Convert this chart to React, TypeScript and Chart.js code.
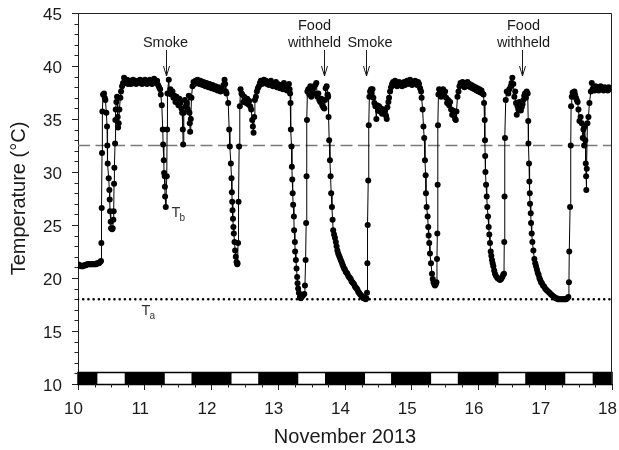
import React, { useEffect, useRef } from 'react';
import { Chart, registerables } from 'chart.js';

Chart.register(...registerables);

// ---------- data ----------
const xTicks = [10, 11, 12, 13, 14, 15, 16, 17, 18];
const yTicks = [10, 15, 20, 25, 30, 35, 40, 45];
const xTitle = 'November 2013';
const yTitle = 'Temperature (°C)';

// body temperature Tb: [day of November 2013, °C]
const tbSeries: [number, number][] = [
  [10.000,21.3],[10.015,21.2],[10.030,21.2],[10.045,21.1],[10.060,21.1],[10.075,21.1],[10.090,21.2],[10.105,21.2],[10.120,21.2],[10.135,21.3],[10.150,21.3],[10.165,21.3],[10.180,21.3],[10.195,21.3],[10.210,21.3],[10.225,21.3],[10.240,21.3],[10.255,21.3],[10.270,21.3],[10.285,21.4],[10.300,21.4],[10.315,21.4],[10.330,21.5],
  [10.345,21.6],[10.350,23.3],[10.355,26.6],[10.360,31.8],[10.365,35.7],[10.375,37.3],[10.390,37.4],[10.400,37.0],[10.410,36.8],[10.425,35.6],[10.435,34.3],[10.440,32.5],[10.445,30.8],[10.460,29.4],[10.470,28.3],[10.475,27.4],[10.480,26.3],[10.490,25.3],[10.495,24.7],[10.510,24.6],[10.520,24.7],[10.530,25.5],[10.535,26.3],[10.540,28.9],[10.545,30.4],[10.555,32.7],[10.560,34.9],[10.565,35.9],[10.575,36.6],[10.585,37.1],[10.595,35.2],[10.600,34.2],[10.610,34.6],[10.620,35.9],[10.635,37.0],[10.645,37.6],[10.660,38.1],[10.675,38.4],[10.690,38.9],
  [10.705,38.6],[10.720,38.4],[10.735,38.7],[10.750,38.3],[10.765,38.5],[10.780,38.6],[10.795,38.3],[10.810,38.5],[10.825,38.7],[10.840,38.4],[10.855,38.6],[10.870,38.3],[10.885,38.5],[10.900,38.6],[10.915,38.4],[10.930,38.7],[10.945,38.5],[10.960,38.3],[10.975,38.6],[10.990,38.4],[11.005,38.7],[11.020,38.5],[11.035,38.3],[11.050,38.6],[11.065,38.4],[11.080,38.7],[11.095,38.5],[11.110,38.3],[11.125,38.6],[11.140,38.8],[11.155,38.5],[11.170,38.4],[11.185,38.6],[11.200,38.2],[11.215,38.0],[11.230,37.8],
  [11.240,37.3],[11.255,36.3],[11.270,34.0],[11.275,32.6],[11.285,31.1],[11.290,29.9],[11.300,29.6],[11.302,28.6],[11.305,27.7],[11.315,26.7],[11.330,29.6],[11.335,34.0],[11.340,37.4],[11.360,38.7],
  [11.370,37.4],[11.385,37.8],[11.400,37.3],[11.415,37.6],[11.430,37.0],[11.445,37.2],[11.460,36.6],[11.475,37.1],[11.490,36.8],[11.505,36.3],[11.520,36.9],[11.535,36.5],[11.550,36.0],[11.560,35.6],[11.570,34.0],[11.575,32.6],[11.585,35.6],[11.600,36.8],[11.615,36.2],[11.630,36.5],[11.645,35.9],[11.660,37.2],[11.670,35.6],[11.675,34.6],[11.680,33.8],[11.690,35.0],[11.700,37.0],[11.715,38.1],[11.730,38.5],
  [11.745,38.3],[11.760,38.6],[11.775,38.4],[11.790,38.7],[11.805,38.5],[11.820,38.3],[11.835,38.6],[11.850,38.4],[11.865,38.2],[11.880,38.5],[11.895,38.3],[11.910,38.1],[11.925,38.4],[11.940,38.2],[11.955,38.0],[11.970,38.3],[11.985,38.1],[12.000,37.9],[12.015,38.2],[12.030,38.0],[12.045,37.8],[12.060,38.1],[12.075,37.9],[12.090,37.7],[12.105,38.0],[12.120,37.8],[12.135,37.6],[12.150,37.9],[12.165,37.7],[12.180,38.2],[12.195,38.7],[12.205,38.3],
  [12.215,37.6],[12.225,37.4],[12.250,36.5],[12.265,34.0],[12.275,32.4],[12.290,30.8],[12.300,29.4],[12.305,28.1],[12.310,27.2],[12.315,26.4],[12.322,25.6],[12.328,24.8],[12.334,24.2],[12.345,23.4],[12.354,22.6],[12.364,22.0],[12.375,21.5],[12.385,21.3],[12.390,21.4],[12.398,23.3],[12.405,27.2],[12.414,32.4],[12.424,36.2],[12.435,37.8],[12.450,37.4],
  [12.460,37.3],[12.475,36.6],[12.490,37.1],[12.505,36.8],[12.520,36.5],[12.535,36.9],[12.550,36.4],[12.565,36.7],[12.580,36.2],[12.595,35.9],[12.610,34.9],[12.620,34.3],[12.630,33.7],[12.640,35.2],[12.650,36.8],[12.665,37.1],[12.680,37.6],[12.695,37.9],[12.710,38.1],
  [12.725,38.4],[12.740,38.6],[12.755,38.3],[12.770,38.5],[12.785,38.7],[12.800,38.4],[12.815,38.6],[12.830,38.3],[12.845,38.5],[12.860,38.2],[12.875,38.4],[12.890,38.6],[12.905,38.3],[12.920,38.1],[12.935,38.4],[12.950,38.2],[12.965,38.5],[12.980,38.0],[12.995,38.3],[13.010,38.1],[13.025,37.9],[13.040,38.2],[13.055,38.0],[13.070,37.8],[13.085,38.4],[13.100,37.9],[13.115,38.1],[13.130,37.7],[13.145,37.9],[13.160,38.3],[13.170,37.8],
  [13.178,37.4],[13.184,36.5],[13.189,34.0],[13.199,32.4],[13.204,30.5],[13.210,29.3],[13.216,28.0],[13.223,26.9],[13.234,25.8],[13.238,24.5],[13.249,23.4],[13.253,22.5],[13.264,21.7],[13.274,20.9],[13.283,20.1],[13.289,19.5],[13.298,19.0],[13.309,18.6],[13.324,18.2],[13.337,18.1],[13.349,18.2],[13.362,18.3],[13.373,18.4],[13.390,18.5],[13.400,19.3],[13.410,21.7],[13.418,25.2],[13.424,29.6],[13.430,34.9],[13.437,37.6],
  [13.450,37.8],[13.465,37.3],[13.480,38.1],[13.495,37.1],[13.510,37.6],[13.525,37.9],[13.540,37.4],[13.555,38.2],[13.570,38.4],[13.585,37.1],[13.600,37.4],[13.615,36.8],[13.630,36.6],[13.645,36.9],[13.660,36.3],[13.675,36.1],[13.690,36.0],[13.700,36.8],[13.710,37.9],[13.725,38.1],[13.740,37.3],
  [13.748,37.1],[13.754,35.2],[13.763,33.0],[13.774,31.1],[13.784,29.6],[13.793,28.0],[13.804,26.7],[13.814,25.5],[13.823,24.5],[13.836,24.1],[13.849,23.8],[13.862,23.4],[13.874,23.0],[13.886,22.6],[13.898,22.3],[13.911,22.1],[13.924,21.9],[13.936,21.7],[13.949,21.5],[13.961,21.3],[13.973,21.1],[13.986,20.9],[13.999,20.8],[14.011,20.6],[14.024,20.5],[14.036,20.4],[14.049,20.2],[14.061,20.1],[14.073,20.0],[14.086,19.9],[14.098,19.7],[14.110,19.6],[14.123,19.5],[14.136,19.4],[14.149,19.2],[14.161,19.1],[14.174,19.0],[14.186,18.9],[14.198,18.7],[14.210,18.6],[14.223,18.5],[14.236,18.4],[14.250,18.3],[14.264,18.2],[14.277,18.1],[14.290,18.1],[14.298,18.1],[14.310,18.0],
  [14.320,18.1],[14.330,18.6],[14.335,21.4],[14.340,25.0],[14.348,29.2],[14.356,34.4],[14.365,37.1],
  [14.375,37.6],[14.390,37.8],[14.400,37.4],[14.412,37.8],[14.425,37.0],[14.440,36.5],[14.455,36.2],[14.470,35.0],[14.480,36.3],[14.495,35.8],[14.510,36.2],[14.525,35.7],[14.540,36.0],[14.555,35.5],[14.570,35.9],[14.585,35.6],[14.600,35.8],[14.615,35.3],[14.625,35.0],[14.635,36.1],[14.650,36.6],[14.660,37.0],[14.675,37.6],[14.690,38.0],[14.705,38.3],
  [14.720,38.5],[14.735,38.2],[14.750,38.6],[14.765,38.4],[14.780,38.1],[14.795,38.3],[14.810,38.5],[14.825,38.2],[14.840,38.4],[14.855,38.1],[14.870,38.3],[14.885,38.5],[14.900,38.2],[14.915,38.4],[14.930,38.6],[14.945,38.3],[14.960,38.5],[14.975,38.7],[14.990,38.4],[15.005,38.2],[15.020,38.5],[15.035,38.3],[15.050,38.6],[15.065,38.4],[15.080,38.2],[15.095,38.5],[15.110,38.3],[15.125,37.9],[15.140,37.6],
  [15.148,37.0],[15.163,35.9],[15.175,34.3],[15.187,33.2],[15.198,31.1],[15.208,29.7],[15.213,28.0],[15.223,26.7],[15.238,25.8],[15.247,24.8],[15.253,24.0],[15.262,23.3],[15.273,22.3],[15.288,21.4],[15.303,20.4],[15.315,19.9],[15.327,19.6],[15.338,19.4],[15.348,19.3],[15.360,19.4],[15.370,19.6],[15.378,21.8],[15.383,24.2],[15.388,28.8],[15.393,34.4],[15.400,37.3],
  [15.410,37.8],[15.425,37.6],[15.440,37.1],[15.455,37.4],[15.470,37.8],[15.485,37.3],[15.500,37.6],[15.515,37.0],[15.530,36.5],[15.545,36.8],[15.560,36.3],[15.575,36.6],[15.590,35.9],[15.605,35.4],[15.620,35.8],[15.635,35.3],[15.650,35.0],[15.660,34.9],[15.670,35.7],[15.685,37.1],[15.700,37.6],[15.715,38.1],
  [15.730,38.4],[15.745,38.2],[15.760,38.5],[15.775,38.3],[15.790,38.0],[15.805,38.4],[15.820,38.2],[15.835,38.5],[15.850,38.1],[15.865,38.3],[15.880,38.0],[15.895,38.2],[15.910,37.9],[15.925,38.1],[15.940,37.8],[15.955,38.0],[15.970,37.7],[15.985,37.9],[16.000,37.6],[16.015,37.8],[16.030,37.5],[16.045,37.7],[16.060,37.4],[16.075,37.3],
  [16.083,36.5],[16.093,34.9],[16.097,33.0],[16.100,31.5],[16.104,30.0],[16.113,28.8],[16.123,27.7],[16.132,26.7],[16.143,25.8],[16.153,24.8],[16.162,24.1],[16.172,23.3],[16.183,22.5],[16.192,22.1],[16.202,21.7],[16.212,21.4],[16.222,21.1],[16.235,20.7],[16.247,20.4],[16.262,20.2],[16.282,20.0],[16.302,19.9],[16.322,19.8],[16.340,19.9],[16.357,20.1],[16.370,20.3],[16.382,20.4],[16.386,23.4],[16.390,27.7],[16.397,33.2],[16.408,36.8],[16.423,37.6],
  [16.447,37.4],[16.462,37.8],[16.483,38.1],[16.495,38.4],[16.507,38.9],[16.522,38.3],[16.537,37.1],[16.550,37.6],[16.562,36.5],[16.573,35.4],[16.585,36.2],[16.597,35.9],[16.610,36.6],[16.622,36.3],[16.635,35.8],[16.647,36.1],[16.660,36.4],[16.672,36.8],[16.685,37.2],[16.697,37.4],[16.710,37.0],[16.722,37.6],[16.737,37.4],
  [16.745,34.8],[16.748,32.7],[16.757,30.8],[16.762,29.1],[16.768,28.0],[16.772,27.0],[16.783,26.1],[16.787,25.2],[16.797,24.2],[16.807,23.4],[16.822,22.6],[16.837,21.8],[16.850,21.4],[16.862,21.1],[16.875,20.8],[16.887,20.5],[16.900,20.3],[16.912,20.0],[16.925,19.8],[16.937,19.6],[16.950,19.5],[16.965,19.3],[16.982,19.2],[16.998,19.0],[17.015,18.9],[17.030,18.8],[17.047,18.7],[17.063,18.6],[17.080,18.5],[17.097,18.4],[17.115,18.3],[17.135,18.2],[17.155,18.1],[17.172,18.1],[17.190,18.0],[17.210,18.0],[17.230,18.0],[17.247,18.0],[17.265,18.0],[17.285,18.0],[17.300,18.0],[17.312,18.0],[17.330,18.1],[17.346,18.2],
  [17.355,19.6],[17.360,22.5],[17.372,26.7],[17.382,32.5],[17.387,36.2],[17.397,37.1],[17.410,37.5],[17.425,37.3],[17.437,37.6],[17.447,37.3],[17.460,37.0],[17.472,36.8],
  [17.485,36.6],[17.497,35.9],[17.512,34.8],[17.530,35.2],[17.547,34.6],[17.562,33.2],[17.572,34.0],[17.582,32.5],[17.590,34.3],[17.600,33.0],[17.607,30.8],[17.612,29.6],[17.615,28.3],[17.622,30.3],[17.632,34.6],[17.647,35.2],[17.662,36.5],[17.683,37.6],[17.697,38.4],
  [17.710,37.8],[17.725,38.0],[17.740,37.7],[17.755,38.1],[17.770,37.8],[17.785,38.0],[17.800,37.7],[17.815,37.9],[17.830,38.1],[17.845,37.8],[17.860,37.9],[17.875,37.7],[17.890,38.0],[17.905,37.8],[17.920,37.9],[17.935,37.7],[17.950,38.0],[17.965,37.8],[17.980,37.9],[17.995,37.8],
];

const taValue = 18;          // ambient temperature Ta (°C)
const thresholdValue = 32.5; // dashed reference line (°C)

// light phase (white blocks in the bottom bar), day values
const lightOn = [10.29, 11.30, 12.30, 13.30, 14.30, 15.29, 16.30, 17.30];
const lightOff = [10.70, 11.70, 12.70, 13.70, 14.69, 15.69, 16.70, 17.71];

// event annotations
const eventDays = [11.325, 13.684, 14.321, 16.648];
const eventLabels = [['Smoke'], ['Food', 'withheld'], ['Smoke'], ['Food', 'withheld']];

// ---------- styling ----------
const FONT = '"Liberation Sans", Arial, Helvetica, sans-serif';
const INK = '#1a1a1a';
const labelShift = [-1, -10, 3.5, 1];

const overlayPlugin = {
  id: 'overlay',
  afterDraw(chart: any) {
    const { ctx, chartArea: a, scales } = chart;
    const xs = scales.x;
    const ys = scales.y;
    ctx.save();

    // light/dark bar
    const barTop = Math.round(ys.getPixelForValue(11.15)) + 0.5;
    const barBot = Math.round(a.bottom) + 0.5;
    ctx.fillStyle = '#fff';
    ctx.fillRect(a.left, barTop, a.right - a.left, barBot - barTop);
    ctx.fillStyle = '#000';
    const starts = [xTicks[0], ...lightOff];
    const ends = [...lightOn, xTicks[xTicks.length - 1]];
    for (let i = 0; i < starts.length; i++) {
      const x0 = xs.getPixelForValue(starts[i]);
      const x1 = xs.getPixelForValue(ends[i]);
      ctx.fillRect(x0, barTop, x1 - x0, barBot - barTop);
    }
    ctx.strokeStyle = '#000';
    ctx.lineWidth = 1.5;
    ctx.strokeRect(a.left, barTop, a.right - a.left, barBot - barTop);

    // frame (top/right)
    ctx.strokeStyle = '#222';
    ctx.lineWidth = 1;
    const L = Math.round(a.left) + 0.5, R = Math.round(a.right) - 0.5;
    const T = Math.round(a.top) + 0.5, B = Math.round(a.bottom) + 0.5;
    ctx.beginPath();
    ctx.moveTo(L, T); ctx.lineTo(R, T); ctx.lineTo(R, B);
    ctx.stroke();

    // minor ticks
    ctx.beginPath();
    for (let v = yTicks[0]; v <= yTicks[yTicks.length - 1]; v += 1) {
      if (v % 5 === 0) continue;
      const py = Math.round(ys.getPixelForValue(v)) + 0.5;
      ctx.moveTo(a.left - 3.5, py); ctx.lineTo(a.left, py);
    }
    for (let v = xTicks[0]; v <= xTicks[xTicks.length - 1]; v += 0.25) {
      if (Math.abs(v - Math.round(v)) < 1e-6) continue;
      const px = Math.round(xs.getPixelForValue(v)) + 0.5;
      ctx.moveTo(px, a.bottom); ctx.lineTo(px, a.bottom + 3.5);
    }
    ctx.stroke();

    // event arrows and labels
    ctx.fillStyle = INK;
    ctx.strokeStyle = INK;
    ctx.lineWidth = 1;
    ctx.font = `14.5px ${FONT}`;
    ctx.textAlign = 'center';
    ctx.textBaseline = 'alphabetic';
    eventDays.forEach((d, i) => {
      const px = Math.round(xs.getPixelForValue(d)) + 0.5;
      const y0 = a.top + 37;
      const y1 = a.top + 63;
      ctx.beginPath();
      ctx.moveTo(px, y0); ctx.lineTo(px, y1);
      ctx.moveTo(px - 3, y1 - 10); ctx.lineTo(px, y1); ctx.lineTo(px + 3, y1 - 10);
      ctx.stroke();
      const lines = eventLabels[i];
      const cx = px + labelShift[i];
      lines.forEach((t, j) => {
        const base = lines.length === 2 ? [a.top + 17, a.top + 33.7][j] : a.top + 33.7;
        ctx.fillText(t, cx, base);
      });
    });

    // Tb / Ta labels
    const drawSub = (main: string, sub: string, day: number, temp: number) => {
      const px = xs.getPixelForValue(day);
      const py = ys.getPixelForValue(temp);
      ctx.textAlign = 'left';
      ctx.font = `14.5px ${FONT}`;
      ctx.fillText(main, px, py);
      const w = ctx.measureText(main).width;
      ctx.font = `10px ${FONT}`;
      ctx.fillText(sub, px + w - 0.8, py + 4.5);
    };
    ctx.fillStyle = '#333';
    drawSub('T', 'b', 11.40, 25.77);
    drawSub('T', 'a', 10.95, 16.51);

    ctx.restore();
  },
};

export default function App() {
  const ref = useRef<HTMLCanvasElement>(null);

  useEffect(() => {
    if (!ref.current) return;
    const chart = new Chart(ref.current, {
      type: 'scatter',
      data: {
        datasets: [
          {
            label: 'Tb',
            data: tbSeries.map(([x, y]) => ({ x, y })),
            showLine: true,
            borderColor: '#000',
            borderWidth: 1,
            pointRadius: 3,
            pointBackgroundColor: '#000',
            pointBorderWidth: 0,
            order: 0,
          },
          {
            label: 'Ta',
            data: [{ x: xTicks[0], y: taValue }, { x: xTicks[xTicks.length - 1], y: taValue }],
            showLine: true,
            borderColor: '#000',
            borderWidth: 2.6,
            borderDash: [0.01, 5.2],
            borderCapStyle: 'round',
            pointRadius: 0,
            order: 1,
          },
          {
            label: 'threshold',
            data: [{ x: xTicks[0], y: thresholdValue }, { x: xTicks[xTicks.length - 1], y: thresholdValue }],
            showLine: true,
            borderColor: '#7a7a7a',
            borderWidth: 1.6,
            borderDash: [12, 5.5],
            pointRadius: 0,
            order: 2,
          },
        ],
      },
      options: {
        animation: false,
        responsive: false,
        events: [],
        layout: { padding: { top: 13, right: 7, left: 0, bottom: 0 } },
        plugins: { legend: { display: false }, tooltip: { enabled: false } },
        scales: {
          x: {
            type: 'linear',
            min: xTicks[0],
            max: xTicks[xTicks.length - 1],
            afterBuildTicks: (s: any) => { s.ticks = xTicks.map((v) => ({ value: v })); },
            afterFit: (s: any) => { s.height = 66; s.paddingLeft = 0; s.paddingRight = 0; },
            ticks: {
              font: { family: FONT, size: 17 },
              color: INK,
              padding: 9,
              labelOffset: -4.5,
              maxRotation: 0,
            },
            grid: { drawOnChartArea: false, drawTicks: true, tickLength: 6, color: '#222' },
            border: { display: true, color: '#222', width: 1 },
            title: {
              display: true,
              text: xTitle,
              font: { family: FONT, size: 20 },
              color: INK,
              padding: { top: 0, bottom: 1 },
            },
          },
          y: {
            type: 'linear',
            min: yTicks[0],
            max: yTicks[yTicks.length - 1],
            afterBuildTicks: (s: any) => { s.ticks = yTicks.map((v) => ({ value: v })); },
            afterFit: (s: any) => { s.width = 78; s.paddingTop = 0; s.paddingBottom = 0; },
            ticks: {
              font: { family: FONT, size: 17 },
              color: INK,
              padding: 10,
              labelOffset: 2,
            },
            grid: { drawOnChartArea: false, drawTicks: true, tickLength: 6, color: '#222' },
            border: { display: true, color: '#222', width: 1 },
            title: {
              display: true,
              text: yTitle,
              font: { family: FONT, size: 20 },
              color: INK,
              padding: { top: 7, bottom: 0 },
            },
          },
        },
      },
      plugins: [overlayPlugin],
    } as any);
    return () => chart.destroy();
  }, []);

  return (
    <div style={{ position: 'fixed', left: 0, top: 0, width: 619, height: 450, background: '#fff' }}>
      <canvas ref={ref} width={619} height={450} style={{ display: 'block' }} />
    </div>
  );
}
